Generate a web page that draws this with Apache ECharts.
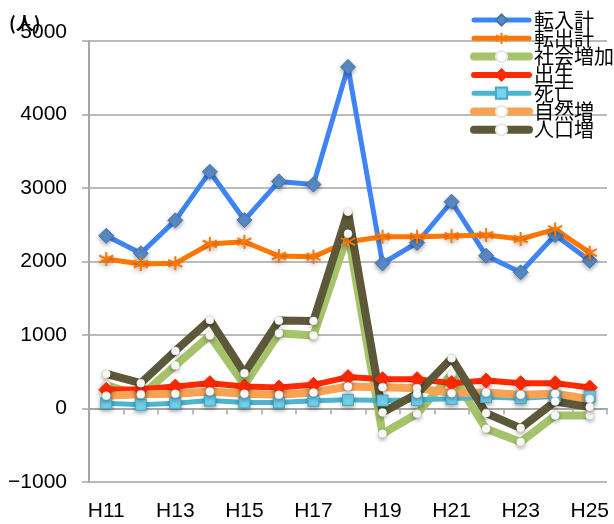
<!DOCTYPE html>
<html>
<head>
<meta charset="utf-8">
<script src="https://cdn.jsdelivr.net/npm/echarts@6/dist/echarts.min.js"></script>
<style>
  html, body {margin: 0; padding: 0; background: #fff;}
  #chart {width: 614px; height: 524px;}
</style>
</head>
<body>
<div id="chart"></div>
<script>
// 年度
var years = ['H11', 'H12', 'H13', 'H14', 'H15', 'H16', 'H17', 'H18', 'H19', 'H20', 'H21', 'H22', 'H23', 'H24', 'H25']

// 各系列（人）
var tennyu    = [2350, 2111, 2560, 3220, 2564, 3090, 3049, 4647, 1975, 2255, 2813, 2079, 1853, 2360, 2011]   // 転入計
var tenshutsu = [2034, 1966, 1975, 2238, 2269, 2075, 2065, 2270, 2337, 2337, 2346, 2360, 2306, 2437, 2120]   // 転出計
var shakai    = [320, 170, 584, 992, 320, 1024, 992, 2377, -344, -72, 470, -276, -457, -95, -95]             // 社会増加
var shussei   = [254, 263, 299, 345, 299, 285, 322, 427, 399, 399, 345, 380, 345, 345, 285]                  // 出生
var shibou    = [73, 50, 73, 109, 82, 82, 105, 118, 109, 118, 132, 155, 141, 163, 163]                        // 死亡
var shizen    = [173, 195, 200, 231, 200, 186, 217, 299, 290, 277, 209, 217, 186, 200, 128]                  // 自然増
var jinkou    = [471, 345, 784, 1205, 481, 1196, 1192, 2677, -54, 200, 684, -63, -266, 95, 19]               // 人口増

var yTicks = {min: -1000, max: 5000, interval: 1000}

var myChart = echarts.init(document.getElementById('chart'), null, {renderer: 'canvas'})

var shadow = {shadowBlur: 4, shadowOffsetY: 2, shadowColor: 'rgba(0,0,0,0.35)'}
var asterisk = 'path://M8,0L8,16M1.1,4L14.9,12M1.1,12L14.9,4'

function lineSeries (name, data, color, width, symbol, size, itemStyle) {
  return {
    name: name,
    type: 'line',
    data: data,
    symbol: symbol,
    symbolSize: size,
    showAllSymbol: true,
    lineStyle: {color: color, width: width, cap: 'round', join: 'round'},
    itemStyle: Object.assign({}, shadow, itemStyle),
    emphasis: {disabled: true},
    animation: false
  }
}

var option = {
  backgroundColor: '#fff',
  title: {
    text: '(人)',
    left: 4,
    top: 9,
    textStyle: {fontFamily: 'Noto Sans CJK JP', fontSize: 18, fontWeight: 'bold', color: '#000'}
  },
  legend: {
    orient: 'vertical',
    left: 470,
    top: 10,
    padding: 0,
    itemWidth: 55,
    itemHeight: 14,
    itemGap: -1.7,
    itemStyle: {shadowBlur: 0, shadowOffsetY: 0},
    lineStyle: {width: 'inherit', cap: 'round'},
    textStyle: {fontFamily: 'Noto Sans CJK JP', fontSize: 20, lineHeight: 19, color: '#000', padding: [0, 0, 0, 0]},
    data: ['転入計', '転出計', '社会増加', '出生', '死亡', '自然増', '人口増']
  },
  grid: {left: 89, right: 7, top: 41, bottom: 42, containLabel: false, outerBoundsMode: 'none'},
  xAxis: [{
    type: 'category',
    data: years,
    position: 'bottom',
    boundaryGap: true,
    axisLine: {show: false, onZero: false},
    axisTick: {show: false},
    axisLabel: {interval: 1, margin: 19, fontSize: 21, color: '#000', fontFamily: 'Liberation Sans'},
    splitLine: {show: false}
  }, {
    // ゼロの位置の軸線と目盛り
    type: 'category',
    data: years,
    position: 'top',
    boundaryGap: true,
    axisLine: {show: true, onZero: true, lineStyle: {color: '#a6a6a6', width: 2}},
    axisTick: {show: true, inside: true, length: 6, lineStyle: {color: '#a6a6a6', width: 1.5}},
    axisLabel: {show: false},
    splitLine: {show: false}
  }],
  yAxis: {
    type: 'value',
    min: yTicks.min,
    max: yTicks.max,
    interval: yTicks.interval,
    axisLine: {show: true, lineStyle: {color: '#a6a6a6', width: 2}},
    axisTick: {show: true, length: 7, lineStyle: {color: '#a6a6a6', width: 1.5}},
    axisLabel: {
      margin: 22,
      fontSize: 21,
      color: '#000',
      fontFamily: 'Liberation Sans',
      formatter: function (v) {
        var s = v < 0 ? '\u2212' + Math.abs(v) : String(v)
        return v === yTicks.max ? '{top|' + s + '}' : s
      },
      rich: {top: {fontSize: 21, fontFamily: 'Liberation Sans', color: '#000', padding: [0, 0, 17, 0]}}
    },
    splitLine: {show: true, lineStyle: {color: '#a3a3a3', width: 1.5}}
  },
  series: [
    lineSeries('転入計', tennyu, '#3f84f4', 5, 'diamond', 15, {color: '#5a8bc6', borderColor: '#4574ab', borderWidth: 1}),
    lineSeries('転出計', tenshutsu, '#ff7700', 5, asterisk, 14, {color: '#ff7700', borderColor: '#ff7700', borderWidth: 2}),
    lineSeries('社会増加', shakai, '#a5c36a', 8, 'circle', 8, {color: '#fff', borderColor: '#e8e8e8', borderWidth: 0.5}),
    lineSeries('出生', shussei, '#ff2a00', 6, 'diamond', 15, {color: '#ff2a00', borderColor: '#ff2a00', borderWidth: 1}),
    lineSeries('死亡', shibou, '#4cb6d1', 5, 'rect', 11, {color: '#74d3ee', borderColor: '#45a9c6', borderWidth: 1}),
    lineSeries('自然増', shizen, '#f8a354', 8, 'circle', 8, {color: '#fff', borderColor: '#e8e8e8', borderWidth: 0.5}),
    lineSeries('人口増', jinkou, '#5d5839', 8, 'circle', 8, {color: '#fff', borderColor: '#e8e8e8', borderWidth: 0.5})
  ]
}

myChart.setOption(option)
</script>
</body>
</html>
